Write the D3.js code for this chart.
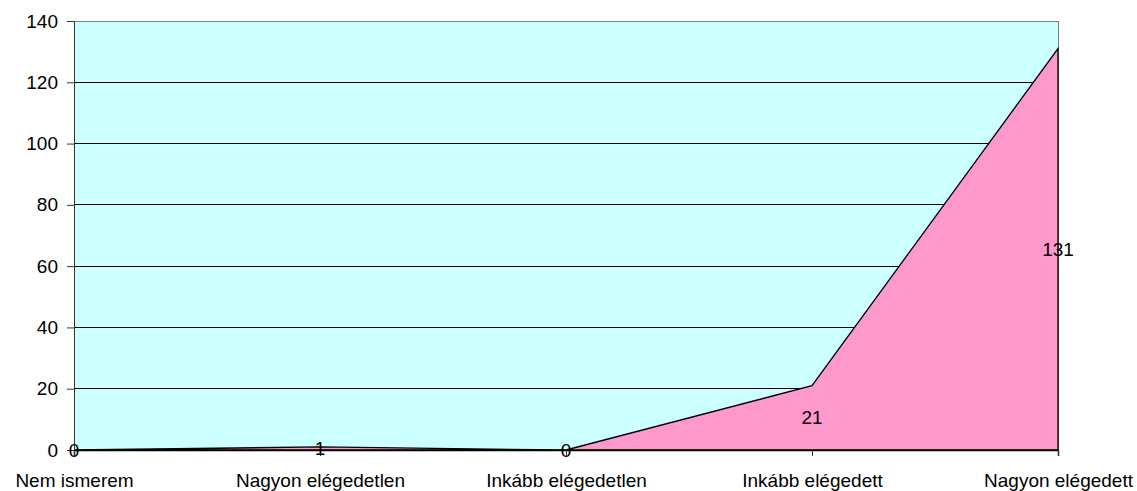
<!DOCTYPE html>
<html>
<head>
<meta charset="utf-8">
<script src="https://cdn.jsdelivr.net/npm/d3@7"></script>
<style>
  body { margin: 0; background: #fff; }
  text { font-family: "Liberation Sans", Arial, sans-serif; font-size: 19px; fill: #000; }
</style>
</head>
<body>
<div id="chart"></div>
<script>
var categories = ["Nem ismerem", "Nagyon elégedetlen", "Inkább elégedetlen", "Inkább elégedett", "Nagyon elégedett"];
var values = [0, 1, 0, 21, 131];
var yTicks = [0, 20, 40, 60, 80, 100, 120, 140];

var width = 1137, height = 491;
var margin = {top: 21, right: 79, bottom: 41, left: 74};
var fontCss = "Liberation Sans, Arial, sans-serif";
var fontSize = "19px";

var svg = d3.select("#chart").append("svg")
    .attr("width", width)
    .attr("height", height);

var x = d3.scalePoint()
    .domain(categories)
    .range([margin.left, width - margin.right]);

var y = d3.scaleLinear()
    .domain([0, 140])
    .range([height - margin.bottom, margin.top]);

var x0 = margin.left, x1 = width - margin.right;
var yTop = y(140), yBot = y(0);

// plot background
svg.append("rect")
    .attr("x", x0).attr("y", yTop)
    .attr("width", x1 - x0).attr("height", yBot - yTop)
    .attr("fill", "#ccffff");

// gridlines
svg.append("g")
    .selectAll("line")
    .data(yTicks.filter(d => d > 0 && d < 140))
    .enter().append("line")
    .attr("x1", x0).attr("x2", x1)
    .attr("y1", d => y(d)).attr("y2", d => y(d))
    .attr("stroke", "#000").attr("stroke-width", 1)
    .attr("shape-rendering", "crispEdges");

// plot border (top/right)
svg.append("path")
    .attr("d", `M${x0},${yTop}H${x1}V${yBot}`)
    .attr("fill", "none").attr("stroke", "#808080")
    .attr("shape-rendering", "crispEdges");

var data = categories.map((c, i) => ({cat: c, val: values[i]}));

var area = d3.area()
    .x(d => x(d.cat))
    .y0(y(0))
    .y1(d => y(d.val));

svg.append("path")
    .datum(data)
    .attr("d", area)
    .attr("fill", "#ff99cc")
    .attr("stroke", "#000")
    .attr("stroke-width", 1.3)
    .attr("stroke-linejoin", "miter");

// y axis
var yAxis = svg.append("g")
    .attr("transform", `translate(${x0},0)`)
    .call(d3.axisLeft(y).tickValues(yTicks).tickSize(7).tickPadding(9).tickFormat(d3.format("d")));
yAxis.select(".domain").attr("stroke", "#333");
yAxis.selectAll(".tick line").attr("stroke", "#333");
yAxis.selectAll("text").style("font-size", fontSize).style("font-family", fontCss);

// x axis
var xAxis = svg.append("g")
    .attr("transform", `translate(0,${yBot})`)
    .call(d3.axisBottom(x).tickSize(6).tickPadding(18));
xAxis.select(".domain").attr("stroke", "#000").attr("stroke-width", 1.5);
xAxis.selectAll(".tick line").attr("stroke", "#333");
xAxis.selectAll("text").style("font-size", fontSize).style("font-family", fontCss);

// data labels at half height of area
svg.append("g")
    .selectAll("text")
    .data(data)
    .enter().append("text")
    .attr("x", d => x(d.cat))
    .attr("y", d => (y(0) + y(d.val)) / 2)
    .attr("text-anchor", "middle")
    .attr("dy", "0.35em")
    .text(d => d.val);
</script>
</body>
</html>
